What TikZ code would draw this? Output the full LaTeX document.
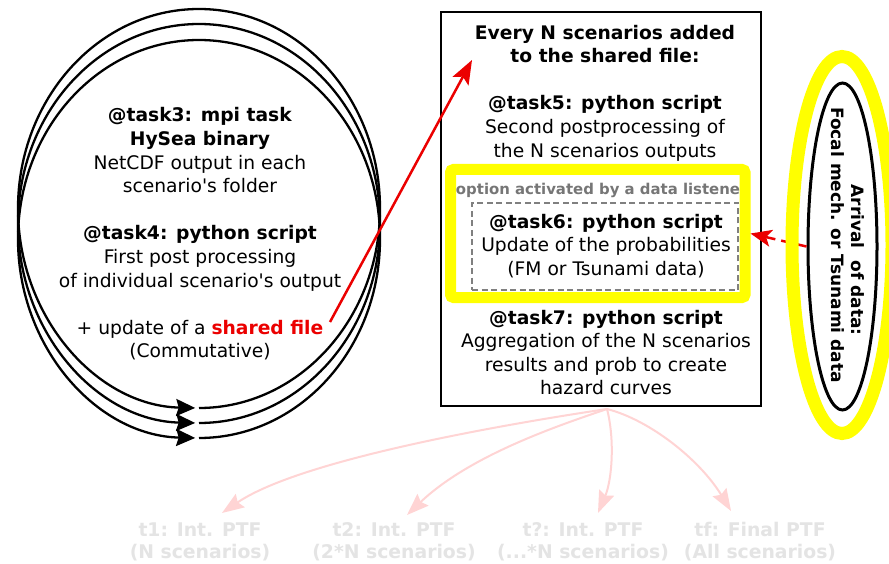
\documentclass[tikz,border=0pt]{standalone}
\usepackage{fontspec}
\setmainfont{DejaVu Sans}
\usetikzlibrary{arrows.meta,shapes.geometric}
\definecolor{hlyellow}{RGB}{255,255,0}
\definecolor{fadedpink}{RGB}{255,212,212}
\definecolor{fadedgray}{RGB}{228,228,228}
\definecolor{optgray}{RGB}{118,118,118}
\definecolor{arrred}{RGB}{235,0,0}
\tikzset{
  maintext/.style={font=\fontsize{18.7}{23.6}\selectfont, align=center, inner sep=0pt},
  looppath/.style={line width=2.3pt, -{Stealth[length=19pt,width=17pt,inset=2.5pt]}},
  redarrow/.style={draw=arrred, line width=2.5pt, -{Stealth[length=24pt,width=18pt,inset=5pt]}},
  dashedred/.style={draw=arrred, line width=2.5pt, dash pattern=on 10pt off 6pt, -{Stealth[length=21pt,width=17pt,inset=5pt]}},
  fadedarrow/.style={draw=fadedpink, line width=2pt, -{Stealth[length=22pt,width=16pt,inset=3pt]}},
  fadedlabel/.style={font=\fontsize{18.8}{22}\selectfont\bfseries, text=fadedgray, align=center, inner sep=0pt},
}
\begin{document}
\begin{tikzpicture}[x=1pt,y=-1pt]
\fill[white] (0,0) rectangle (889,564);
\useasboundingbox (0,0) rectangle (889,564);

% three loops
\coordinate (b1) at (199,408);
\coordinate (b2) at (199,423);
\coordinate (b3) at (199,438);
\draw[looppath] (b1) arc[start angle=-90, end angle=268.8, x radius=181pt, y radius=199.5pt];
\draw[looppath] (b2) arc[start angle=-90, end angle=268.8, x radius=181pt, y radius=199.5pt];
\draw[looppath] (b3) arc[start angle=-90, end angle=268.8, x radius=181pt, y radius=199pt];

\node[maintext] (lefttext) at (200,234) {\textbf{@task3: mpi task}\\ \textbf{HySea binary}\\ NetCDF output in each\\ scenario\textquotesingle s folder\\[23.6pt] \textbf{@task4: python script}\\ First post processing\\ of individual scenario\textquotesingle s output\\[23.6pt] + update of a \textcolor{arrred}{\textbf{shared file}}\\ (Commutative)};

% main box
\node[draw, line width=2.5pt, minimum width=320pt, minimum height=394pt, inner sep=0pt] (mainbox) at (601,209) {};
\node[maintext] (headtext) at (605,93) {\textbf{Every N scenarios added}\\ \textbf{to the shared file:}\\[23.6pt] \textbf{@task5: python script}\\ Second postprocessing of\\ the N scenarios outputs};
\node[draw=hlyellow, line width=11pt, rounded corners=3pt, minimum width=294.5pt, minimum height=128pt, inner sep=0pt] (optframe) at (597.75,233.5) {};
\node[font=\fontsize{14.9}{17}\selectfont\bfseries, text=optgray, inner sep=0pt] (opttext) at (598,190) {option activated by a data listene};
\node[draw=gray, line width=2pt, dash pattern=on 6pt off 3.5pt, minimum width=266pt, minimum height=87pt, inner sep=0pt] (task6box) at (605,246.5) {};
\node[maintext] (task6text) at (606,246) {\textbf{@task6: python script}\\ Update of the probabilities\\ (FM or Tsunami data)};
\node[maintext] (task7text) at (606,352.5) {\textbf{@task7: python script}\\ Aggregation of the N scenarios\\ results and prob to create\\ hazard curves};

% right data ellipse
\node[draw, ellipse, line width=3pt, minimum width=69pt, minimum height=327pt, inner sep=0pt] (dataell) at (842.5,246.5) {};
\draw[dashedred] (dataell.west) -- (optframe.east);
\node[draw=hlyellow, ellipse, line width=13pt, minimum width=100pt, minimum height=377pt, inner sep=0pt] (yellowell) at (842,245) {};
\node[rotate=-90, font=\fontsize{17}{20.5}\selectfont\bfseries, align=center, inner sep=0pt] (datatext) at (848,245) {\hspace*{30pt}Arrival\ \ of data:\\ Focal mech. or Tsunami data};

% red arrow shared file -> box
\coordinate (sharedEnd) at (330,322);
\coordinate (boxEntry) at (472,60);
\draw[redarrow] (sharedEnd) -- (boxEntry);

% faded outputs
\coordinate (fanout) at (607,409);
\node[fadedlabel] (lab1) at (200,542) {t1: Int. PTF\\ (N scenarios)};
\node[fadedlabel] (lab2) at (394,542) {t2: Int. PTF\\ (2*N scenarios)};
\node[fadedlabel] (lab3) at (583,542) {t?: Int. PTF\\ (...*N scenarios)};
\node[fadedlabel] (lab4) at (760,542) {tf: Final PTF\\ (All scenarios)};
\coordinate (tip1) at (222,513);
\coordinate (tip2) at (407,515);
\coordinate (tip3) at (598,513);
\coordinate (tip4) at (731,511);
\draw[fadedarrow] (fanout) .. controls (500,425) and (300,460) .. (tip1);
\draw[fadedarrow] (fanout) .. controls (560,425) and (470,455) .. (tip2);
\draw[fadedarrow] (fanout) .. controls (615,440) and (612,480) .. (tip3);
\draw[fadedarrow] (fanout) .. controls (650,420) and (700,460) .. (tip4);
\end{tikzpicture}
\end{document}
